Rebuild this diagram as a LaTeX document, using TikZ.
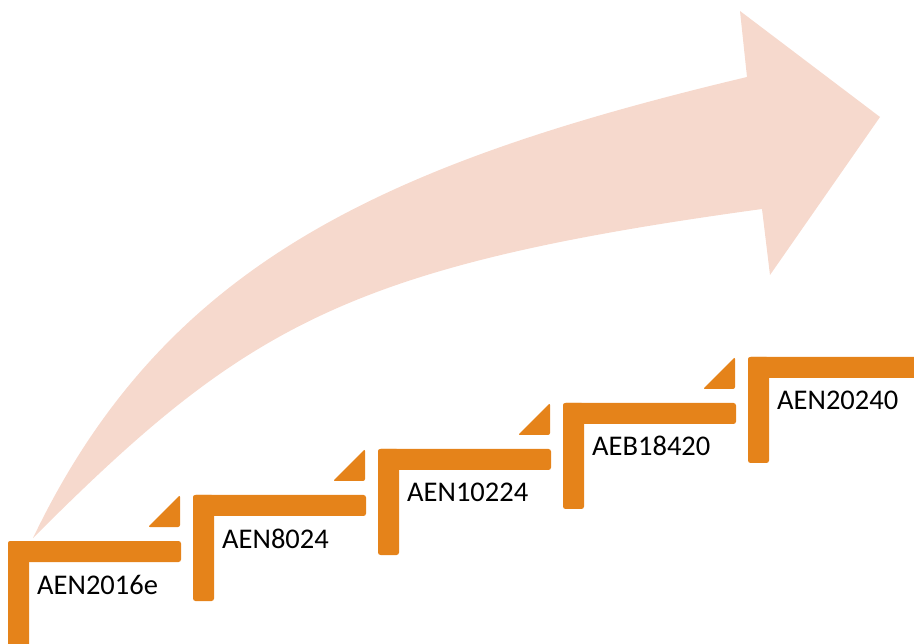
\documentclass[tikz,border=0pt]{standalone}
\usepackage{fontspec}
\setmainfont{Carlito}
\definecolor{stair}{HTML}{E5831A}
\definecolor{peach}{HTML}{F6D9CD}
\tikzset{
  stairbar/.style={fill=stair, rounded corners=2.5pt},
  stairtri/.style={fill=stair, rounded corners=2pt},
  steplabel/.style={anchor=base west, inner sep=0pt, font=\fontsize{28.5}{34}\selectfont, text=black}
}
\begin{document}
\begin{tikzpicture}[x=1pt,y=-1pt]
\useasboundingbox (0,0) rectangle (914,644);
% big curved arrow
\fill[peach] (33,538) .. controls (163,267) and (377,165) .. (747,77)
  -- (740,11) -- (880,117) -- (770,275) -- (762,209)
  .. controls (346,266) and (245,326) .. (33,538) -- cycle;
% stairs
\foreach \ox/\oy/\lab/\n in {8/541/AEN2016e/1, 193/495/AEN8024/2, 378/449/AEN10224/3, 563/403/AEB18420/4, 748/357/AEN20240/5}{
  \fill[stairbar] (\ox,\oy) rectangle ++(173,21);
  \fill[stairbar] (\ox,\oy) rectangle ++(21,106);
  \node[steplabel] (s\n) at (\ox+29,\oy+53) {\lab};
}
\foreach \ox/\oy in {8/541, 193/495, 378/449, 563/403}{
  \fill[stairtri] (\ox+140,\oy-14) -- (\ox+172,\oy-14) -- (\ox+172,\oy-46) -- cycle;
}
\end{tikzpicture}
\end{document}
